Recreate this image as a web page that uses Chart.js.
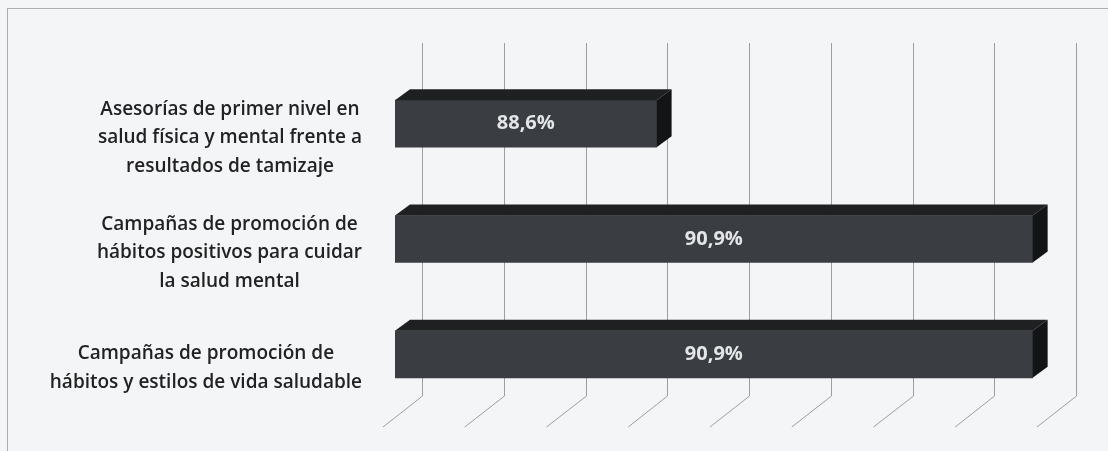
<!DOCTYPE html>
<html>
<head>
<meta charset="utf-8">
<script src="https://cdn.jsdelivr.net/npm/chart.js@4"></script>
<style>
    html, body { margin: 0; padding: 0; background: #f4f5f7; }
    #wrap { width: 1108px; height: 451px; }
</style>
</head>
<body>
<div id="wrap"><canvas id="chartCanvas" width="1108" height="451"></canvas></div>
<script>
// Chart data
const categories = [
    ['Asesorías de primer nivel en', 'salud física y mental frente a', 'resultados de tamizaje'],
    ['Campañas de promoción de', 'hábitos positivos para cuidar', 'la salud mental'],
    ['Campañas de promoción de', 'hábitos y estilos de vida saludable']
];
const percentages = [88.6, 90.9, 90.9];
const axisMin = 87;
const axisMax = 91;
const axisStep = 0.5;

// Depth of the fake 3D box (front floor -> back wall) and of each bar
const FLOOR_FRONT = { dx: -12, dy: 15 };
const WALL_BACK = { dx: 27, dy: -23 };
const BAR_DEPTH = { dx: 15, dy: -11 };

function formatPct(v) {
    return v.toFixed(1).replace('.', ',') + '%';
}

const depthPlugin = {
    id: 'depth3d',
    beforeDatasetsDraw(chart) {
        const ctx = chart.ctx;
        const xScale = chart.scales.x;
        const { top, bottom } = chart.chartArea;
        const wallTop = top + WALL_BACK.dy;
        const floorBack = bottom - 16;
        const floorFront = bottom + FLOOR_FRONT.dy;

        ctx.save();
        ctx.strokeStyle = '#9c9ea2';
        ctx.lineWidth = 1;
        xScale.ticks.forEach(t => {
            const xv = xScale.getPixelForValue(t.value);
            const xb = Math.round(xv + WALL_BACK.dx) + 0.5;
            ctx.beginPath();
            ctx.moveTo(xb, wallTop);
            ctx.lineTo(xb, floorBack);
            ctx.lineTo(xv + FLOOR_FRONT.dx, floorFront);
            ctx.stroke();
        });
        ctx.restore();
    },
    afterDatasetsDraw(chart) {
        const ctx = chart.ctx;
        const meta = chart.getDatasetMeta(0);
        const left = chart.chartArea.left;
        ctx.save();
        meta.data.forEach((bar, i) => {
            const { x, y, height } = bar.getProps(['x', 'y', 'height'], true);
            const t = y - height / 2;
            const b = y + height / 2;

            // top face
            ctx.fillStyle = '#1f2022';
            ctx.beginPath();
            ctx.moveTo(left, t);
            ctx.lineTo(left + BAR_DEPTH.dx, t + BAR_DEPTH.dy);
            ctx.lineTo(x + BAR_DEPTH.dx, t + BAR_DEPTH.dy);
            ctx.lineTo(x, t);
            ctx.closePath();
            ctx.fill();

            // side face
            ctx.fillStyle = '#131415';
            ctx.beginPath();
            ctx.moveTo(x, t);
            ctx.lineTo(x + BAR_DEPTH.dx, t + BAR_DEPTH.dy);
            ctx.lineTo(x + BAR_DEPTH.dx, b + BAR_DEPTH.dy);
            ctx.lineTo(x, b);
            ctx.closePath();
            ctx.fill();

            // value label
            ctx.fillStyle = '#e4e5e7';
            ctx.font = 'bold 20px "Open Sans"';
            ctx.textAlign = 'center';
            ctx.textBaseline = 'middle';
            ctx.fillText(formatPct(percentages[i]), (left + x) / 2, y);
        });
        ctx.restore();
    },
    afterDraw(chart) {
        const ctx = chart.ctx;
        const yScale = chart.scales.y;
        const blockRight = 362;
        const lineGap = 28.5;

        ctx.save();
        ctx.fillStyle = '#222222';
        ctx.font = '600 19px "Open Sans"';
        ctx.textAlign = 'center';
        ctx.textBaseline = 'middle';
        categories.forEach((lines, i) => {
            const cy = yScale.getPixelForValue(i) + 14;
            const blockW = Math.max(...lines.map(l => ctx.measureText(l).width));
            const cx = blockRight - blockW / 2;
            lines.forEach((line, j) => {
                ctx.fillText(line, cx, cy + (j - (lines.length - 1) / 2) * lineGap);
            });
        });

        // outer frame
        ctx.strokeStyle = '#acaeb1';
        ctx.lineWidth = 1;
        ctx.strokeRect(7.5, 8.5, 1200, 600);
        ctx.restore();
    }
};

document.addEventListener('DOMContentLoaded', function () {
    const ctx = document.getElementById('chartCanvas');
    new Chart(ctx, {
        type: 'bar',
        data: {
            labels: categories,
            datasets: [{
                data: percentages,
                backgroundColor: '#3a3d41',
                borderWidth: 0,
                barThickness: 47
            }]
        },
        options: {
            indexAxis: 'y',
            responsive: false,
            animation: false,
            layout: {
                padding: { left: 395, right: 59, top: 66, bottom: 39 }
            },
            scales: {
                x: {
                    display: false,
                    min: axisMin,
                    max: axisMax,
                    ticks: { stepSize: axisStep }
                },
                y: { display: false }
            },
            plugins: {
                legend: { display: false },
                tooltip: { enabled: false }
            }
        },
        plugins: [depthPlugin]
    });
});
</script>
</body>
</html>
